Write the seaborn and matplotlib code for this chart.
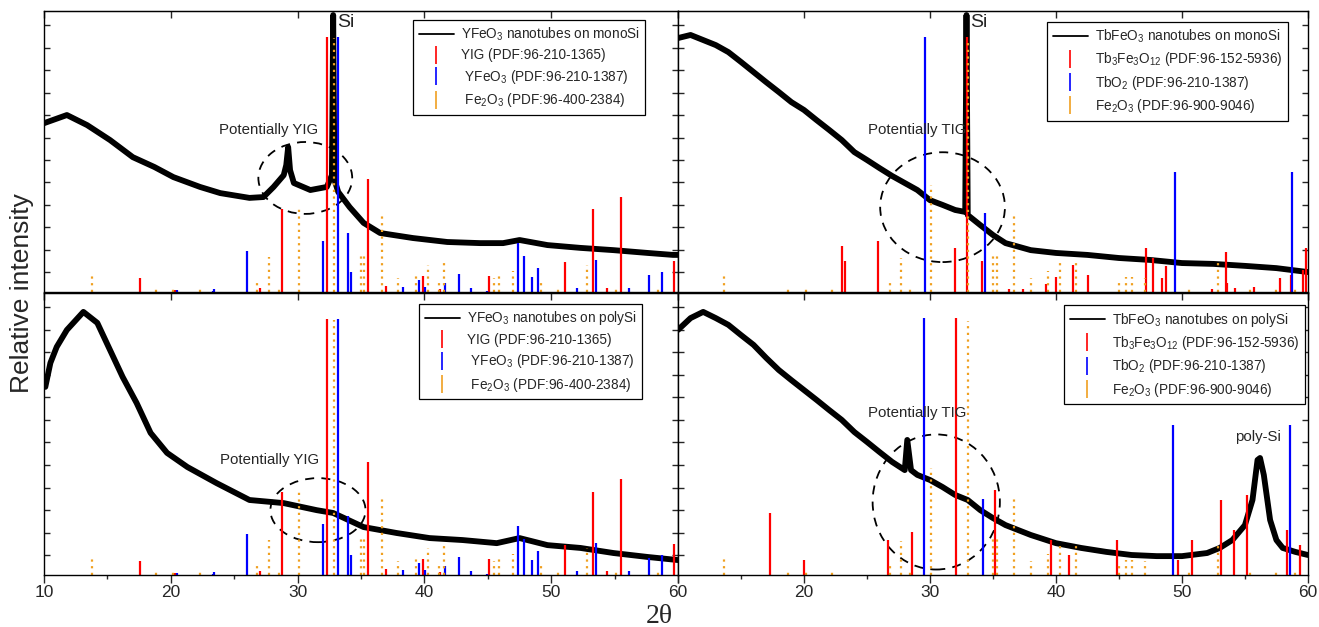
import numpy as np
import matplotlib
matplotlib.use("Agg")
import matplotlib.pyplot as plt
from matplotlib.lines import Line2D
from matplotlib.patches import Ellipse
from matplotlib.ticker import MultipleLocator
import seaborn as sns

# ---------- measured patterns (2theta, relative intensity 0-100) ----------
yfeo_mono_tt = [10.0, 11.8, 13.4, 15.2, 17.0, 18.7, 20.2, 22.3, 23.9, 26.2, 27.3, 28.1, 28.9,
                29.1, 29.25, 29.4, 29.7, 31.0, 32.3, 32.7, 32.8, 32.9, 33.2, 34.1, 35.2, 36.5,
                39.1, 41.8, 44.4, 46.2, 47.5, 49.7, 52.3, 54.9, 57.6, 59.6, 60.0]
yfeo_mono_i = [60.1, 63.0, 59.4, 54.1, 48.0, 44.5, 40.9, 37.4, 35.2, 33.5, 33.8, 37.4, 41.6,
               45.2, 51.6, 43.4, 38.8, 36.3, 37.4, 41.6, 98.6, 39.9, 35.6, 30.2, 24.6, 21.0,
               19.2, 17.8, 17.4, 17.4, 18.5, 16.7, 15.7, 14.9, 13.9, 13.2, 13.2]

yfeo_poly_tt = [10.1, 10.5, 11.0, 11.8, 13.1, 14.2, 15.2, 16.2, 17.3, 18.4, 19.7, 21.3, 23.6,
                26.2, 28.9, 31.5, 32.8, 35.2, 37.8, 40.4, 43.0, 45.7, 47.5, 49.7, 52.3, 54.9,
                57.6, 60.0]
yfeo_poly_i = [66.7, 75.2, 80.9, 86.9, 93.3, 89.4, 79.8, 70.2, 61.0, 50.4, 43.3, 38.3, 32.6,
               26.6, 25.5, 23.0, 22.0, 17.0, 14.9, 13.1, 12.4, 11.3, 13.1, 10.6, 9.6, 7.8,
               6.4, 5.3]

tbfeo_mono_tt = [10.0, 11.0, 12.0, 13.0, 14.0, 15.0, 16.0, 17.0, 18.0, 19.0, 20.0, 21.0, 22.0,
                 23.0, 24.0, 25.0, 26.0, 27.0, 28.0, 29.0, 30.0, 31.0, 32.0, 32.8, 32.9, 33.0,
                 34.0, 35.0, 36.0, 38.0, 40.0, 42.5, 45.0, 47.5, 50.0, 52.5, 55.0, 57.5, 60.0]
tbfeo_mono_i = [90.4, 91.5, 89.7, 87.9, 85.4, 81.9, 78.3, 74.7, 71.2, 67.6, 64.8, 61.2, 57.7,
                54.1, 49.8, 47.0, 44.1, 41.3, 38.8, 36.3, 32.7, 31.0, 29.2, 28.5, 98.6, 27.4,
                23.8, 20.3, 17.4, 14.9, 13.9, 13.2, 12.1, 11.4, 10.3, 10.0, 9.3, 8.5, 7.1]

tbfeo_poly_tt = [10.0, 11.0, 12.0, 13.0, 14.0, 15.0, 16.0, 17.0, 18.0, 19.0, 20.0, 21.0, 22.0,
                 23.0, 24.0, 25.0, 26.0, 27.0, 28.0, 28.2, 28.5, 29.0, 30.0, 31.0, 32.0, 33.0,
                 34.0, 35.0, 36.0, 38.0, 40.0, 42.0, 44.0, 46.0, 48.0, 50.0, 52.0, 53.0, 54.0,
                 55.0, 55.6, 56.0, 56.2, 56.5, 57.0, 57.5, 58.0, 59.0, 60.0]
tbfeo_poly_i = [86.9, 91.1, 93.3, 91.1, 88.7, 85.1, 81.6, 77.0, 72.7, 69.1, 65.6, 62.1, 58.5,
                55.0, 50.7, 47.2, 43.6, 40.1, 37.2, 47.9, 37.2, 35.5, 33.7, 31.2, 28.4, 26.6,
                23.0, 20.2, 17.7, 14.2, 11.3, 9.6, 8.2, 7.1, 6.7, 6.7, 7.8, 9.6, 12.4,
                17.7, 26.6, 40.8, 41.5, 35.5, 19.5, 12.4, 9.6, 8.2, 7.1]

# ---------- reference sticks, Y-Fe-O panels ----------
yig_tt = [17.6, 20.3, 27.0, 28.8, 32.3, 35.53, 37.0, 39.87, 41.23, 45.1, 51.1, 53.3, 54.4,
          55.5, 59.7]
yig_h = [4.9, 0.6, 1.3, 29.6, 90.9, 40.2, 2.3, 5.7, 1.2, 5.7, 10.6, 29.5, 1.3, 33.9, 11.1]
yfeo_ref_tt = [20.5, 23.3, 23.4, 26.0, 32.0, 33.16, 33.95, 34.2, 38.3, 39.55, 40.05, 41.6,
               42.75, 43.7, 44.9, 47.36, 47.86, 48.5, 48.93, 52.0, 53.5, 56.1, 57.7, 58.7]
yfeo_ref_h = [0.8, 0.5, 1.2, 14.7, 18.0, 90.9, 21.1, 7.2, 1.9, 4.3, 1.7, 3.3, 6.4, 1.5, 0.5,
              17.5, 12.8, 5.2, 8.4, 1.3, 11.4, 1.5, 6.0, 7.0]
fe2o3_a_tt = [13.8, 18.8, 20.2, 22.3, 26.8, 27.7, 28.5, 30.1, 32.87, 35.0, 35.26, 36.63, 37.9,
              39.3, 40.28, 41.15, 41.57, 45.5, 45.9, 46.96, 49.17, 50.5, 52.8, 55.1, 58.45]
fe2o3_a_h = [6.4, 1.7, 1.0, 1.2, 4.3, 12.3, 2.1, 30.4, 90.6, 14.3, 13.8, 27.0, 5.1, 7.2, 9.6,
             3.9, 11.4, 5.0, 5.7, 7.5, 3.3, 1.9, 9.6, 1.1, 2.1]

# ---------- reference sticks, Tb-Fe-O panels ----------
tig_mono_tt = [23.02, 23.28, 25.84, 32.0, 32.95, 34.12, 36.27, 37.4, 39.25, 39.97, 41.36, 42.56,
               47.14, 47.7, 48.4, 48.77, 52.4, 53.47, 53.6, 54.25, 55.7, 57.76, 58.63, 59.64,
               59.87]
tig_mono_h = [16.4, 11.0, 18.3, 15.5, 90.7, 11.0, 1.0, 1.0, 2.8, 5.4, 9.6, 6.0, 15.8, 12.0,
              4.9, 9.3, 1.0, 14.1, 3.3, 1.3, 1.7, 5.1, 6.0, 7.8, 15.8]
tbo2_mono_tt = [29.61, 34.38, 49.48, 58.73]
tbo2_mono_h = [90.7, 28.0, 42.7, 42.7]
tig_poly_tt = [17.27, 20.03, 26.67, 28.57, 32.03, 35.17, 39.57, 41.0, 44.83, 49.67, 50.77,
               53.07, 54.1, 55.2, 58.33, 59.4]
tig_poly_h = [22.0, 5.3, 12.4, 15.2, 91.1, 30.0, 12.4, 7.0, 12.4, 5.3, 12.4, 26.6, 16.0,
              28.4, 16.0, 10.6]
tbo2_poly_tt = [29.5, 34.23, 49.3, 58.6]
tbo2_poly_h = [91.1, 27.0, 53.2, 53.2]
fe2o3_b_tt = [13.67, 18.7, 20.16, 22.24, 26.8, 27.7, 28.44, 30.06, 33.0, 35.0, 35.3, 36.66,
              38.05, 39.4, 40.3, 41.6, 45.0, 45.6, 46.0, 47.1, 50.6, 52.9, 55.4, 57.5, 59.0]
fe2o3_b_h = [6.4, 1.3, 1.0, 1.0, 4.3, 12.0, 2.1, 38.0, 90.0, 14.3, 14.3, 27.0, 4.9, 7.6, 10.2,
             11.4, 3.2, 5.4, 5.4, 5.0, 1.9, 10.3, 1.0, 1.0, 2.0]

x_ticks = [10, 20, 30, 40, 50, 60]
left_tick_labels = ["10", "20", "30", "40", "50", "60"]
right_tick_labels = ["", "20", "30", "40", "50", "60"]

y_legend = ["YFeO$_3$ nanotubes on monoSi", "YIG (PDF:96-210-1365)",
            " YFeO$_3$ (PDF:96-210-1387)", " Fe$_2$O$_3$ (PDF:96-400-2384)"]
tb_legend = ["TbFeO$_3$ nanotubes on monoSi", "Tb$_3$Fe$_3$O$_{12}$ (PDF:96-152-5936)",
             "TbO$_2$ (PDF:96-210-1387)", "Fe$_2$O$_3$ (PDF:96-900-9046)"]

RED, BLUE, ORANGE = "#ff0000", "#0000ff", "#f0a020"

sns.set_style("ticks")
plt.rcParams["font.family"] = ["Liberation Sans", "DejaVu Sans"]
plt.rcParams["mathtext.default"] = "regular"

fig = plt.figure(figsize=(13.19, 6.27), dpi=100)
ax_tl = fig.add_axes([0.0334, 0.5343, 0.4807, 0.4480])
ax_tr = fig.add_axes([0.5140, 0.5343, 0.4776, 0.4480])
ax_bl = fig.add_axes([0.0334, 0.0829, 0.4807, 0.4498])
ax_br = fig.add_axes([0.5140, 0.0829, 0.4776, 0.4498])


def draw_panel(ax, tt, inten, sample_label, red, blue, orange, labels, anchor):
    sns.lineplot(x=tt, y=inten, ax=ax, color="black", lw=4.2, legend=False)
    ax.vlines(red[0], 0, red[1], colors=RED, lw=1.6)
    ax.vlines(blue[0], 0, blue[1], colors=BLUE, lw=1.6)
    ax.vlines(orange[0], 0, orange[1], colors=ORANGE, lw=1.6, linestyles=(0, (1, 2)))
    ax.set_xlim(10, 60)
    ax.set_ylim(0, 100)
    ax.set_xlabel("")
    ax.set_ylabel("")
    ax.xaxis.set_minor_locator(MultipleLocator(5))
    ax.set_yticks(np.arange(7, 100, 8))
    ax.set_yticklabels([])
    ax.tick_params(axis="x", which="major", direction="out", length=6, width=1, top=False,
                   labelsize=12.5, pad=1.5)
    ax.tick_params(axis="x", which="minor", direction="out", length=3, width=1, top=False)
    ax.tick_params(axis="y", direction="in", length=4, width=1, left=True, right=True)
    top = ax.secondary_xaxis("top")
    top.set_xticks(x_ticks)
    top.set_xticklabels([])
    top.tick_params(direction="in", length=5, width=1)
    for s in ax.spines.values():
        s.set_visible(True)
        s.set_linewidth(1.0)
        s.set_color("black")
    handles = [Line2D([], [], color="black", lw=1.3),
               Line2D([], [], color=RED, marker="|", ls="None", markersize=13, mew=1.2),
               Line2D([], [], color=BLUE, marker="|", ls="None", markersize=13, mew=1.2),
               Line2D([], [], color=ORANGE, marker="|", ls="None", markersize=13, mew=1.2)]
    labels = [labels[0].replace("monoSi", sample_label)] + labels[1:]
    leg = ax.legend(handles, labels, loc="upper right", bbox_to_anchor=anchor,
                    borderaxespad=0, fontsize=9.8, frameon=True, fancybox=False,
                    edgecolor="black", framealpha=1, handlelength=2.6, labelspacing=0.4,
                    borderpad=0.4, handletextpad=0.5)
    leg.get_frame().set_linewidth(0.9)


draw_panel(ax_tl, yfeo_mono_tt, yfeo_mono_i, "monoSi", (yig_tt, yig_h),
           (yfeo_ref_tt, yfeo_ref_h), (fe2o3_a_tt, fe2o3_a_h), y_legend, (0.948, 0.968))
draw_panel(ax_bl, yfeo_poly_tt, yfeo_poly_i, "polySi", (yig_tt, yig_h),
           (yfeo_ref_tt, yfeo_ref_h), (fe2o3_a_tt, fe2o3_a_h), y_legend, (0.943, 0.961))
draw_panel(ax_tr, tbfeo_mono_tt, tbfeo_mono_i, "monoSi", (tig_mono_tt, tig_mono_h),
           (tbo2_mono_tt, tbo2_mono_h), (fe2o3_b_tt, fe2o3_b_h), tb_legend, (0.968, 0.961))
draw_panel(ax_br, tbfeo_poly_tt, tbfeo_poly_i, "polySi", (tig_poly_tt, tig_poly_h),
           (tbo2_poly_tt, tbo2_poly_h), (fe2o3_b_tt, fe2o3_b_h), tb_legend, (0.995, 0.957))

for ax in (ax_tl, ax_tr):
    ax.set_xticks(x_ticks)
    ax.set_xticklabels([])
ax_bl.set_xticks(x_ticks)
ax_bl.set_xticklabels(left_tick_labels)
ax_br.set_xticks(x_ticks)
ax_br.set_xticklabels(right_tick_labels)

# annotations
ell_kw = dict(fill=False, ls=(0, (5, 4)), lw=1.3, ec="black")
ax_tl.add_patch(Ellipse((30.6, 40.6), 7.4, 25.6, **ell_kw))
ax_tl.text(27.7, 57.7, "Potentially YIG", ha="center", va="center", fontsize=10.8)
ax_tl.text(33.15, 96.0, "Si", ha="left", va="center", fontsize=14)
ax_bl.add_patch(Ellipse((31.6, 23.0), 7.5, 22.7, **ell_kw))
ax_bl.text(27.8, 40.8, "Potentially YIG", ha="center", va="center", fontsize=10.8)
ax_tr.add_patch(Ellipse((31.0, 30.2), 9.9, 39.1, **ell_kw))
ax_tr.text(29.0, 57.7, "Potentially TIG", ha="center", va="center", fontsize=10.8)
ax_tr.text(33.2, 96.0, "Si", ha="left", va="center", fontsize=14)
ax_br.add_patch(Ellipse((30.5, 25.9), 10.1, 47.9, **ell_kw))
ax_br.text(29.0, 57.4, "Potentially TIG", ha="center", va="center", fontsize=10.8)
ax_br.text(56.0, 46.5, "poly-Si", ha="center", va="bottom", fontsize=10.8)

fig.text(0.0167, 0.533, "Relative intensity", rotation=90, ha="center", va="center",
         fontsize=19)
fig.text(0.500, 0.017, "2θ", ha="center", va="center", fontsize=20,
         family=["Liberation Serif", "DejaVu Serif"])

fig.savefig("out.png", dpi=100)
